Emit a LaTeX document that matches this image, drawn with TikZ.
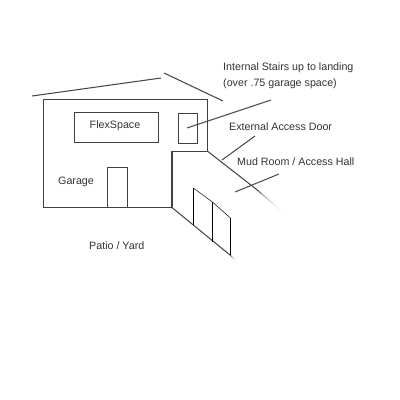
\documentclass[tikz,border=0pt]{standalone}
\usepackage{fontspec}
\setmainfont{Liberation Sans}
\usetikzlibrary{calc}
\tikzset{
  wall/.style={draw=black!75, line width=1.3pt},
  slant/.style={draw=black!72, line width=1.05pt},
  leader/.style={draw=black!72, line width=1pt},
  rail/.style={draw=black, line width=0.9pt},
  railtop/.style={draw=black!85, line width=0.6pt},
  label/.style={font=\fontsize{10.7}{16}\selectfont, text=black!80, inner sep=0pt, align=left},
}
% Draws a line that fades out between two points
\newcommand{\fadeline}[2]{%
  \foreach \t in {0,0.05,...,0.96}{
    \pgfmathsetmacro{\shade}{72*(1-\t)^4}
    \draw[draw=black!\shade, line width=1.05pt]
      ($(#1)!\t!(#2)$) -- ($(#1)!{\t+0.06}!(#2)$);
  }%
}
\begin{document}
\begin{tikzpicture}[x=1pt,y=-1pt]
  \useasboundingbox (0,0) rectangle (400,400);
  \fill[white] (0,0) rectangle (400,400);

  % Roof
  \coordinate (roofA) at (32,96);
  \coordinate (roofB) at (161,78);
  \coordinate (roofC) at (164,73);
  \coordinate (roofD) at (223,101);
  \draw[slant] (roofA) -- (roofB);
  \draw[slant] (roofC) -- (roofD);

  % Front wall of the house
  \coordinate (tl) at (43.4,99.4);
  \coordinate (tr) at (207.8,99.4);
  \coordinate (mr) at (207.8,151.4);
  \coordinate (mi) at (171.9,151.4);
  \coordinate (bi) at (171.9,207.5);
  \coordinate (bl) at (43.4,207.5);
  \draw[wall] (mi) -- (mr) -- (tr) -- (tl) -- (bl) -- (bi) -- (mi);

  % Rooms and openings
  \node[wall, minimum width=84pt, minimum height=30pt, inner sep=0pt, anchor=north west, outer sep=0pt] (flex) at (74.4,112.4) {};
  \node[label] (flextext) at (115,125.5) {FlexSpace};
  \node[wall, minimum width=19pt, minimum height=30pt, inner sep=0pt, anchor=north west, outer sep=0pt] (stairs) at (178.4,113.4) {};
  \node[wall, minimum width=20pt, minimum height=40pt, inner sep=0pt, anchor=north west, outer sep=0pt] (door) at (107.4,167.5) {};
  \node[label, anchor=west] (garage) at (58,182) {Garage};

  % Receding walls
  \coordinate (upperMid) at (256,189);
  \coordinate (upperEnd) at (298,225);
  \coordinate (lowerMid) at (230,255);
  \coordinate (lowerEnd) at (241,266);
  \draw[slant] (mr) -- (upperMid);
  \fadeline{upperMid}{upperEnd}
  \draw[slant] (bi) -- (lowerMid);
  \fadeline{lowerMid}{lowerEnd}

  % Railing along the lower wall
  \coordinate (r1t) at (193.4,188);
  \coordinate (r1b) at (193.4,225);
  \coordinate (r2t) at (212.4,202);
  \coordinate (r2b) at (212.4,242);
  \coordinate (r3t) at (230.4,218);
  \coordinate (r3b) at (230.4,255);
  \draw[rail] (r1t) -- (r1b);
  \draw[rail] (r2t) -- (r2b);
  \draw[rail] (r3t) -- (r3b);
  \draw[railtop] (r1t) -- (r2t) -- (r3t);

  % Labels and leader lines
  \node[label, anchor=north west] (stairtext) at (223,62.5) {Internal Stairs up to landing\\(over .75 garage space)};
  \node[label, anchor=west] (doortext) at (229,127) {External Access Door};
  \node[label, anchor=west] (mudtext) at (237,161.5) {Mud Room / Access Hall};
  \node[label, anchor=west] (patio) at (89,246) {Patio / Yard};

  \coordinate (stairEnd) at (271,100);
  \coordinate (stairIn) at (187,128);
  \coordinate (doorEnd) at (255,136);
  \coordinate (doorIn) at (222,160);
  \coordinate (mudEnd) at (279,174);
  \coordinate (mudIn) at (235,192);
  \draw[leader] (stairEnd) -- (stairIn);
  \draw[leader] (doorEnd) -- (doorIn);
  \draw[leader] (mudEnd) -- (mudIn);
\end{tikzpicture}
\end{document}
